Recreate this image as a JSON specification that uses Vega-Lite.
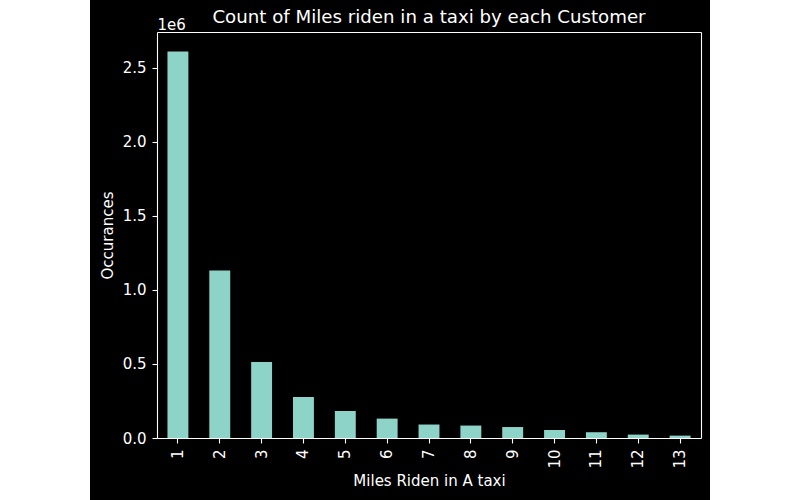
{
  "$schema": "https://vega.github.io/schema/vega-lite/v6.json",
  "width": 620,
  "height": 500,
  "autosize": {"type": "none"},
  "padding": {"left": 90, "right": 90, "top": 0, "bottom": 0},
  "background": "white",
  "title": {
    "text": "Count of Miles riden in a taxi by each Customer",
    "color": "white",
    "font": "DejaVu Sans",
    "fontSize": 18.2,
    "fontWeight": "normal",
    "frame": "group",
    "anchor": "middle",
    "dx": 29,
    "offset": -27
  },
  "data": {
    "values": [
      {"miles": 1, "count": 2612000},
      {"miles": 2, "count": 1131000},
      {"miles": 3, "count": 514000},
      {"miles": 4, "count": 277000},
      {"miles": 5, "count": 183000},
      {"miles": 6, "count": 131000},
      {"miles": 7, "count": 91000},
      {"miles": 8, "count": 84000},
      {"miles": 9, "count": 74000},
      {"miles": 10, "count": 54000},
      {"miles": 11, "count": 39000},
      {"miles": 12, "count": 23000},
      {"miles": 13, "count": 16000}
    ]
  },
  "layer": [
    {
      "mark": {"type": "bar", "fill": "#8dd3c7"},
      "encoding": {
        "x": {
          "field": "miles",
          "type": "ordinal",
          "scale": {"range": [67, 611], "paddingInner": 0.5, "paddingOuter": 0.25},
          "axis": {
            "orient": "bottom",
            "offset": -62,
            "labelAngle": 270,
            "labelPadding": 6,
            "title": "Miles Riden in A taxi",
            "titlePadding": 5
          }
        },
        "y": {
          "field": "count",
          "type": "quantitative",
          "scale": {"domain": [0, 2743000], "range": [438, 32], "nice": false},
          "axis": {
            "orient": "left",
            "offset": -67,
            "values": [0, 500000, 1000000, 1500000, 2000000, 2500000],
            "labelExpr": "format(datum.value / 1000000, '.1f')",
            "labelPadding": 6,
            "title": "Occurances",
            "titlePadding": 7
          }
        }
      }
    },
    {
      "mark": {"type": "bar", "opacity": 0},
      "encoding": {
        "x": {
          "field": "miles",
          "type": "ordinal",
          "axis": {
            "orient": "top",
            "offset": -32,
            "labels": false,
            "ticks": false,
            "title": "1e6",
            "titleAnchor": "start",
            "titlePadding": 0
          }
        },
        "y": {
          "field": "count",
          "type": "quantitative",
          "axis": {
            "orient": "right",
            "offset": -9,
            "labels": false,
            "ticks": false,
            "title": null
          }
        }
      }
    }
  ],
  "resolve": {"axis": {"x": "independent", "y": "independent"}},
  "config": {
    "view": {"fill": "black", "stroke": null},
    "axis": {
      "grid": false,
      "domainColor": "white",
      "domainWidth": 1.1,
      "tickColor": "white",
      "tickWidth": 1.1,
      "tickSize": 5,
      "labelColor": "white",
      "labelFont": "DejaVu Sans",
      "labelFontSize": 15,
      "titleColor": "white",
      "titleFont": "DejaVu Sans",
      "titleFontSize": 15,
      "titleFontWeight": "normal"
    }
  }
}
